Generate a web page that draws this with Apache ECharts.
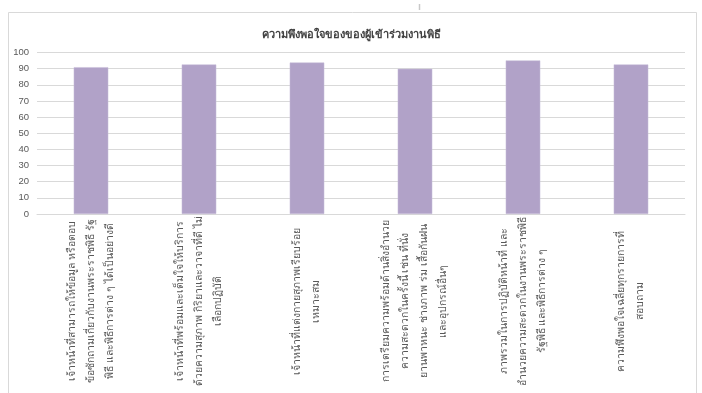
<!DOCTYPE html>
<html>
<head>
<meta charset="utf-8">
<script src="https://cdn.jsdelivr.net/npm/echarts@6/dist/echarts.min.js"></script>
<style>
html,body{margin:0;padding:0;background:#fff;}
#c{width:702px;height:393px;}
</style>
</head>
<body>
<div id="c"></div>
<script>
var titleText = 'ความพึงพอใจของของผู้เข้าร่วมงานพิธี';
var categories = [
  'เจ้าหน้าที่สามารถให้ข้อมูล หรือตอบ\nข้อซักถามเกี่ยวกับงานพระราชพิธี รัฐ\nพิธี และพิธีการต่าง ๆ ได้เป็นอย่างดี',
  'เจ้าหน้าที่พร้อมและเต็มใจให้บริการ\nด้วยความสุภาพ กิริยาและวาจาที่ดี ไม่\nเลือกปฏิบัติ',
  'เจ้าหน้าที่แต่งกายสุภาพเรียบร้อย\nเหมาะสม',
  'การเตรียมความพร้อมด้านสิ่งอำนวย\nความสะดวกในครั้งนี้ เช่น ที่นั่ง\nยานพาหนะ ช่างภาพ ร่ม เสื้อกันฝน\nและอุปกรณ์อื่นๆ',
  'ภาพรวมในการปฏิบัติหน้าที่ และ\nอำนวยความสะดวกในงานพระราชพิธี\nรัฐพิธี และพิธีการต่าง ๆ',
  'ความพึงพอใจเฉลี่ยทุกรายการที่\nสอบถาม'
];
var values = [90.9, 92.6, 93.8, 89.9, 95.1, 92.6];
var yTicks = [0, 10, 20, 30, 40, 50, 60, 70, 80, 90, 100];

var chart = echarts.init(document.getElementById('c'), null, {renderer: 'canvas'});
chart.setOption({
  animation: false,
  backgroundColor: '#ffffff',
  graphic: [
    {type: 'rect', shape: {x: 8.5, y: 12.5, width: 688, height: 385}, style: {fill: 'none', stroke: '#d9d9d9', lineWidth: 1}},
    {type: 'line', shape: {x1: 419.5, y1: 4, x2: 419.5, y2: 10}, style: {stroke: '#c8c8c8', lineWidth: 1.5}}
  ],
  title: {
    text: titleText,
    left: 'center',
    top: 24,
    textStyle: {fontSize: 11, fontWeight: 'bold', color: '#404040', fontFamily: 'sans-serif'}
  },
  grid: {left: 37, right: 17, top: 52.5, bottom: 179, containLabel: false},
  xAxis: {
    type: 'category',
    data: categories,
    axisTick: {show: false},
    axisLine: {lineStyle: {color: '#d9d9d9'}},
    axisLabel: {
      rotate: 90,
      interval: 0,
      margin: 87,
      align: 'center',
      verticalAlign: 'middle',
      fontSize: 10.5,
      lineHeight: 19,
      color: '#595959',
      fontFamily: 'sans-serif',
      formatter: function (v) {
        return v.split('\n').map(function (l) { return '{a|' + l + '}'; }).join('\n');
      },
      rich: {a: {fontSize: 10.5, lineHeight: 19, color: '#595959', fontFamily: 'sans-serif'}}
    }
  },
  yAxis: {
    type: 'value',
    min: yTicks[0],
    max: yTicks[yTicks.length - 1],
    interval: 10,
    axisLine: {show: false},
    axisTick: {show: false},
    axisLabel: {fontSize: 9.5, color: '#595959', margin: 8, fontFamily: 'sans-serif'},
    splitLine: {lineStyle: {color: '#d9d9d9', width: 1}}
  },
  series: [{
    type: 'bar',
    data: values,
    barWidth: '32%',
    itemStyle: {color: '#b1a2c8', borderColor: '#c9bedb', borderWidth: 0.5}
  }]
});
</script>
</body>
</html>
